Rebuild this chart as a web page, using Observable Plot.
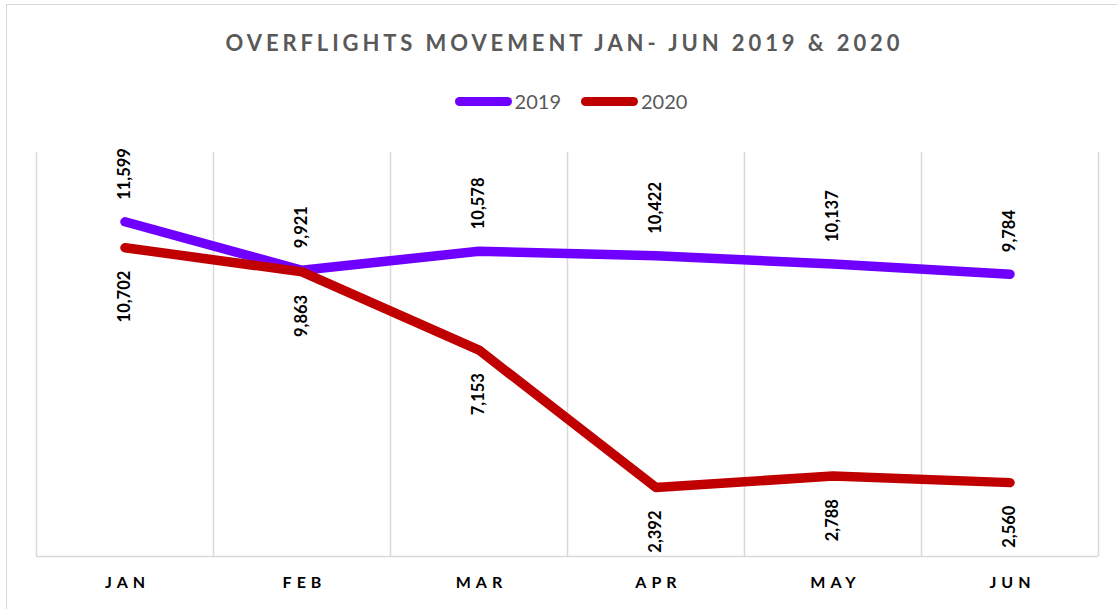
<!DOCTYPE html>
<html><head><meta charset="utf-8">
<script src="https://cdn.jsdelivr.net/npm/d3@7"></script>
<script src="https://cdn.jsdelivr.net/npm/@observablehq/plot@0.6"></script>
<style>
body{margin:0;background:#fff;font-family:Lato,"Open Sans",sans-serif;}
#wrap{position:relative;width:1117px;height:609px;overflow:hidden;}
#frame{position:absolute;left:6px;top:4px;width:1140px;height:640px;border:1px solid #d9d9d9;box-sizing:border-box;pointer-events:none;}
#title{box-sizing:border-box;height:53px;padding-top:32px;line-height:22px;text-align:center;font-weight:bold;font-size:22px;letter-spacing:3.9px;color:#595959;padding-left:12px;white-space:nowrap;}
#legend{box-sizing:border-box;height:67px;padding-top:29px;line-height:24px;display:flex;justify-content:center;align-items:center;padding-left:25px;font-size:20px;color:#595959;}
.sw{display:inline-block;width:57px;height:9px;border-radius:5px;margin-right:3px;}
.item{display:flex;align-items:center;margin:0 10px;}
</style>
</head><body>
<div id="wrap">
<div id="frame"></div>
<div id="title">OVERFLIGHTS MOVEMENT JAN- JUN 2019 &amp; 2020</div>
<div id="legend"></div>
<div id="chart"></div>
</div>
<script>
const months = ["JAN","FEB","MAR","APR","MAY","JUN"];
const values2019 = [11599, 9921, 10578, 10422, 10137, 9784];
const values2020 = [10702, 9863, 7153, 2392, 2788, 2560];
const seriesNames = ["2019","2020"];
const seriesColors = ["#6F00FF","#C00000"];

const legend = document.getElementById("legend");
seriesNames.forEach((n,k)=>{
  const it = document.createElement("div"); it.className="item";
  const sw = document.createElement("span"); sw.className="sw"; sw.style.background=seriesColors[k];
  const tx = document.createElement("span"); tx.textContent=n;
  it.appendChild(sw); it.appendChild(tx); legend.appendChild(it);
});

const d19 = months.map((m,i)=>({i, v:values2019[i]}));
const d20 = months.map((m,i)=>({i, v:values2020[i]}));
const grid = d3.range(months.length+1).map(i=>i-0.5);
const fmt = d3.format(",");

const chart = Plot.plot({
  width:1117, height:489,
  marginTop:32, marginBottom:53, marginLeft:36, marginRight:19,
  style:{fontFamily:"Lato, 'Open Sans', sans-serif", background:"transparent", overflow:"visible"},
  x:{type:"linear", domain:[-0.5, months.length-0.5]},
  y:{domain:[0,14000], axis:null},
  marks:[
    Plot.ruleX(grid, {stroke:"#d9d9d9", strokeWidth:1.5}),
    Plot.ruleY([0], {stroke:"#d9d9d9", strokeWidth:1.5}),
    Plot.lineY(d19, {x:"i", y:"v", stroke:seriesColors[0], strokeWidth:9.5, strokeLinecap:"round", strokeLinejoin:"round"}),
    Plot.lineY(d20, {x:"i", y:"v", stroke:seriesColors[1], strokeWidth:9.5, strokeLinecap:"round", strokeLinejoin:"round"}),
    Plot.text(d19, {x:"i", y:"v", text:d=>fmt(d.v), rotate:-90, dy:-22, textAnchor:"start", fontWeight:"bold", fontSize:16.5, fill:"#000"}),
    Plot.text(d20, {x:"i", y:"v", text:d=>fmt(d.v), rotate:-90, dy:23, textAnchor:"end", fontWeight:"bold", fontSize:16.5, fill:"#000"}),
    Plot.axisX(d3.range(months.length), {tickFormat:i=>months[i], tickSize:0, tickPadding:20, fontWeight:"bold", fontSize:16, fill:"#000", dx:2.5, label:null})
  ]
});
d3.select(chart).selectAll('g[aria-label="x-axis tick label"] text').style("letter-spacing","5px");
document.getElementById("chart").appendChild(chart);
</script>
</body></html>
